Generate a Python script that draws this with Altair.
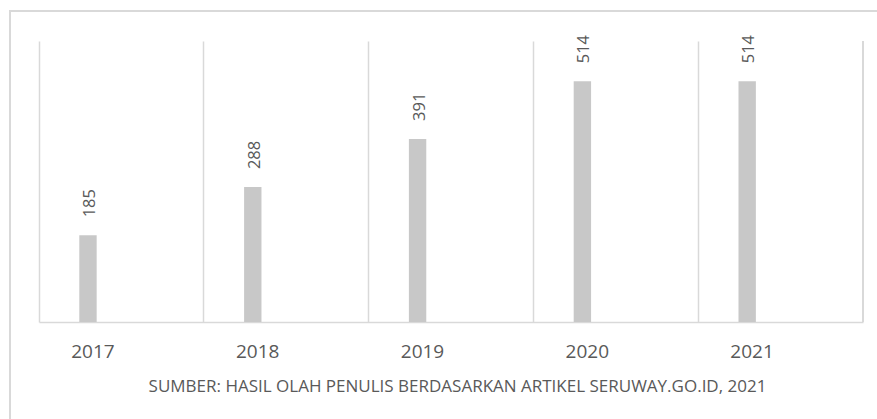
import altair as alt
import pandas as pd

years = ["2017", "2018", "2019", "2020", "2021"]
values = [185, 288, 391, 514, 514]
series = ["A", "A", "A", "A", "A"]
source_title = "SUMBER: HASIL OLAH PENULIS BERDASARKAN ARTIKEL SERUWAY.GO.ID, 2021"

df = pd.DataFrame({"year": years, "value": values, "s": series})

W, H = 824, 281
GRID = "#D9D9D9"
FONT = "Open Sans"

x_enc = alt.X(
    "year:N",
    sort=years,
    scale=alt.Scale(paddingInner=0, paddingOuter=0),
    axis=alt.Axis(
        title=source_title,
        labelAngle=0,
        labelFont=FONT,
        labelFontSize=19,
        labelColor="#595959",
        labelPadding=35,
        labelBaseline="alphabetic",
        labelOffset=-28.5,
        ticks=False,
        tickSize=0,
        domainColor=GRID,
        domainWidth=1.5,
        grid=True,
        gridColor=GRID,
        gridWidth=1.5,
        bandPosition=0,
        titleFont=FONT,
        titleFontSize=17,
        titleFontWeight="normal",
        titleColor="#595959",
        titleX=418,
        titleY=69,
        titleAlign="center",
        titleBaseline="alphabetic",
    ),
)
xoff = alt.XOffset(
    "s:N",
    scale=alt.Scale(domain=["A", "B"], paddingInner=0.74, paddingOuter=0.603),
)
y_enc = alt.Y("value:Q", scale=alt.Scale(domain=[0, 600]), axis=None)

base = alt.Chart(df).encode(x=x_enc, xOffset=xoff, y=y_enc)

bars = base.mark_bar(color="#C8C8C8")
labels = base.mark_text(
    angle=270, align="left", baseline="middle", dx=18, dy=2,
    font=FONT, fontSize=16.5, color="#595959",
).encode(text="value:Q")

right_rule = alt.Chart(df).mark_rule(color=GRID, strokeWidth=1.5).encode(
    x=alt.value(W), y=alt.value(0), y2=alt.value(H)
)
frame = alt.Chart(df).mark_rect(fill=None, stroke=GRID, strokeWidth=1.5).encode(
    x=alt.value(-29), x2=alt.value(W + 40), y=alt.value(-30), y2=alt.value(H + 120)
)

chart = alt.layer(frame, bars, labels, right_rule).properties(
    width=W,
    height=H,
    padding={"left": 39, "top": 41, "right": 14, "bottom": 97},
    autosize=alt.AutoSizeParams(type="none"),
    background="white",
).configure_view(stroke=None)

chart.save("out.html", embed_options={"renderer": "svg", "actions": False})
